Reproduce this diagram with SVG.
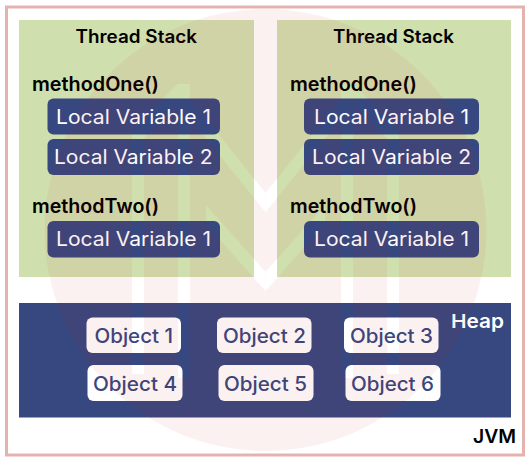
<svg xmlns="http://www.w3.org/2000/svg" width="531" height="461" viewBox="0 0 531 461">
<style>
text{font-family:"Inter","Liberation Sans",sans-serif;dominant-baseline:alphabetic}
.panel{fill:#d0dfae}
.heap{fill:#374880}
.box{fill:#374880}
.obj{fill:#fff}
.lv{fill:#fff;font-size:20px;font-weight:400}
.ot{fill:#374880;font-size:20px;font-weight:500}
.m{fill:#000;font-size:19.5px;font-weight:600}
.t{fill:#000;font-size:18px;font-weight:600}
</style>
<defs>
<g id="half">
<polygon points="132,130 178,84 178,104 144,138 144,374 132,374"/>
<rect x="178" y="84" width="12" height="294"/>
<polygon points="178,84 265.5,193 265.5,212 178,104"/>
<polygon points="206,205 265.5,272 265.5,291 206,224"/>
</g>
<mask id="wm" maskUnits="userSpaceOnUse" x="0" y="0" width="531" height="461">
<circle cx="265.5" cy="230" r="221" fill="#fff"/>
<g fill="#000">
<use href="#half"/>
<use href="#half" transform="translate(531 0) scale(-1 1)"/>
</g>
</mask>
</defs>
<rect width="531" height="461" fill="#fff"/>
<rect id="jvm-frame" x="6.5" y="7" width="517" height="448" fill="none" stroke="#e5b2ae" stroke-width="3"/>
<g id="stack-left">
<rect class="panel" x="19" y="20" width="235" height="257"/>
<text class="t" x="75.5" y="43" textLength="121.5" lengthAdjust="spacingAndGlyphs">Thread Stack</text>
<text class="m" x="32" y="90.5" textLength="127" lengthAdjust="spacingAndGlyphs">methodOne()</text>
<rect class="box" x="47.5" y="98.5" width="172.5" height="36" rx="6"/>
<text class="lv" x="56" y="124" textLength="155" lengthAdjust="spacingAndGlyphs">Local Variable 1</text>
<rect class="box" x="47.5" y="139" width="172.5" height="36" rx="6"/>
<text class="lv" x="54" y="164" textLength="158.5" lengthAdjust="spacingAndGlyphs">Local Variable 2</text>
<text class="m" x="32" y="213" textLength="127" lengthAdjust="spacingAndGlyphs">methodTwo()</text>
<rect class="box" x="47.5" y="221" width="172.5" height="36.5" rx="6"/>
<text class="lv" x="56" y="246" textLength="155" lengthAdjust="spacingAndGlyphs">Local Variable 1</text>
</g>
<g id="stack-right">
<rect class="panel" x="277" y="20" width="234" height="257"/>
<text class="t" x="333" y="43" textLength="121" lengthAdjust="spacingAndGlyphs">Thread Stack</text>
<text class="m" x="290" y="90.5" textLength="127" lengthAdjust="spacingAndGlyphs">methodOne()</text>
<rect class="box" x="304" y="98.5" width="175" height="36" rx="6"/>
<text class="lv" x="314" y="124" textLength="155" lengthAdjust="spacingAndGlyphs">Local Variable 1</text>
<rect class="box" x="304" y="139" width="175" height="36" rx="6"/>
<text class="lv" x="312" y="164" textLength="159" lengthAdjust="spacingAndGlyphs">Local Variable 2</text>
<text class="m" x="290" y="213" textLength="127" lengthAdjust="spacingAndGlyphs">methodTwo()</text>
<rect class="box" x="304" y="221" width="175" height="36.5" rx="6"/>
<text class="lv" x="314" y="246" textLength="155" lengthAdjust="spacingAndGlyphs">Local Variable 1</text>
</g>
<g id="heap">
<rect class="heap" x="19" y="303" width="492" height="114.5"/>
<text x="451" y="328" fill="#fff" font-size="19" font-weight="600" textLength="53" lengthAdjust="spacingAndGlyphs">Heap</text>
</g>
<g id="object-1"><rect class="obj" x="86.5" y="317.5" width="94.5" height="35.5" rx="6"/><text class="ot" x="94.5" y="342.5" textLength="78.5" lengthAdjust="spacingAndGlyphs">Object 1</text></g>
<g id="object-2"><rect class="obj" x="217" y="317.5" width="94.5" height="35.5" rx="6"/><text class="ot" x="223" y="342.5" textLength="83" lengthAdjust="spacingAndGlyphs">Object 2</text></g>
<g id="object-3"><rect class="obj" x="344" y="317.5" width="94.5" height="35.5" rx="6"/><text class="ot" x="350" y="342.5" textLength="83" lengthAdjust="spacingAndGlyphs">Object 3</text></g>
<g id="object-4"><rect class="obj" x="87.5" y="365" width="95" height="36" rx="6"/><text class="ot" x="93" y="390.5" textLength="84" lengthAdjust="spacingAndGlyphs">Object 4</text></g>
<g id="object-5"><rect class="obj" x="218.5" y="365" width="95" height="36" rx="6"/><text class="ot" x="224" y="390.5" textLength="83" lengthAdjust="spacingAndGlyphs">Object 5</text></g>
<g id="object-6"><rect class="obj" x="345.5" y="365" width="95" height="36" rx="6"/><text class="ot" x="351" y="390.5" textLength="83" lengthAdjust="spacingAndGlyphs">Object 6</text></g>
<g id="jvm-label"><text x="473" y="443" fill="#000" font-size="19" font-weight="600" textLength="43" lengthAdjust="spacingAndGlyphs">JVM</text></g>
<rect id="watermark" width="531" height="461" fill="#d70a0a" opacity="0.05" mask="url(#wm)"/>
</svg>
